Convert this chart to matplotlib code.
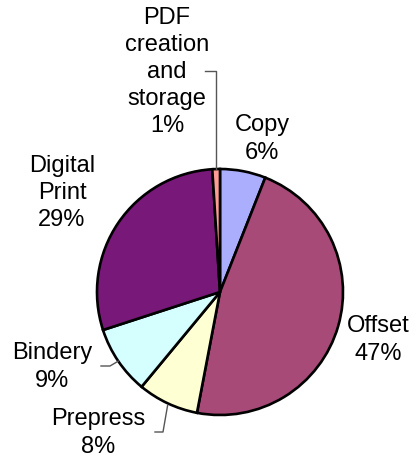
import matplotlib
matplotlib.use("Agg")
import matplotlib.pyplot as plt
import numpy as np

categories = ["Copy", "Offset", "Prepress", "Bindery", "Digital\nPrint", "PDF\ncreation\nand\nstorage"]
values = [6, 47, 8, 9, 29, 1]
colors = ["#AAAEFC", "#A84A78", "#FFFFD4", "#D4FEFF", "#781878", "#FF9C94"]

plt.rcParams['font.family'] = ['Liberation Sans', 'DejaVu Sans']

W, H = 417, 464
fig = plt.figure(figsize=(W / 100, H / 100), dpi=100)
ax = fig.add_axes([0, 0, 1, 1])

cx, cy, r = 220, 293, 123
# y axis is inverted below, so counterclock=True in data coords appears clockwise
wedges, _ = ax.pie(values, colors=colors, startangle=-90, counterclock=True,
                   center=(cx, cy), radius=r, frame=True,
                   wedgeprops=dict(edgecolor='black', linewidth=1.9))
ax.set_xlim(0, W)
ax.set_ylim(H, 0)
ax.set_aspect('equal')
ax.axis('off')

fs = 17
label_pos = {
    "Copy": (262, 139),
    "Offset": (378, 340),
    "Prepress": (98, 433),
    "Bindery": (52, 367),
    "Digital\nPrint": (62, 193),
    "PDF\ncreation\nand\nstorage": (167, 72),
}
for cat, v in zip(categories, values):
    x, y = label_pos[cat]
    ax.text(x, y, f"{cat}\n{v}%", ha='center', va='center', fontsize=fs,
            linespacing=1.3)

def edge_point(w):
    ang = np.deg2rad((w.theta1 + w.theta2) / 2)
    return cx + r * np.cos(ang), cy + r * np.sin(ang)

# leader lines
ex, ey = edge_point(wedges[5])
ax.plot([205, ex, ex], [72, 72, ey], color='#555555', lw=1)
bx, by = edge_point(wedges[3])
ax.plot([101, 110, bx], [367, 367, by], color='#555555', lw=1)
px, py = edge_point(wedges[2])
ax.plot([155, 163, px], [433, 433, py + 2], color='#555555', lw=1)

fig.savefig("out.png", dpi=100)
